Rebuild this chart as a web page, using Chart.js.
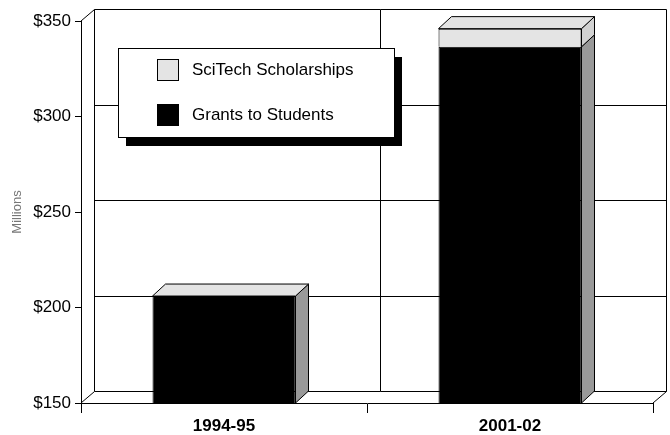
<!DOCTYPE html>
<html>
<head>
<meta charset="utf-8">
<script src="https://cdn.jsdelivr.net/npm/chart.js@4.4.1/dist/chart.umd.min.js"></script>
<style>
html, body { margin: 0; padding: 0; background: #fff; }
#wrap { width: 670px; height: 435px; position: relative; }
</style>
</head>
<body>
<div id="wrap"><canvas id="myChart"></canvas></div>
<script>
// data
const years = ['1994-95', '2001-02'];
const grants = [206, 336.5];
const scitech = [0, 9.5];
const yTicks = [150, 200, 250, 300, 350];
const seriesNames = ['Grants to Students', 'SciTech Scholarships'];

const FONT = 'Liberation Sans, Arial, sans-serif';
const DX = 13, DY = -12; // depth of the 3d look
const faceColors = ['#000000', '#e4e4e4'];
const sideColors = ['#999999', '#d2d2d2'];
const topColor = '#e4e4e4';

// back wall, floor and grid
const wall = {
  id: 'wall',
  beforeDatasetsDraw(chart) {
    const { ctx, chartArea: a, scales: { x, y } } = chart;
    const top = Math.round(y.getPixelForValue(yTicks[yTicks.length - 1]) + DY) + 0.5;
    const bot = Math.round(y.getPixelForValue(yTicks[0]) + DY) + 0.5;
    const l = Math.round(a.left + DX) + 0.5, r = Math.round(a.right + DX) + 0.5;
    ctx.save();
    ctx.strokeStyle = '#000';
    ctx.lineWidth = 1;
    ctx.beginPath();
    yTicks.forEach(v => {
      const py = Math.round(y.getPixelForValue(v) + DY) + 0.5;
      ctx.moveTo(l, py); ctx.lineTo(r, py);
    });
    ctx.moveTo(l, top); ctx.lineTo(l, bot);
    ctx.moveTo(r, top); ctx.lineTo(r, bot);
    for (let i = 1; i < years.length; i++) {
      const mx = Math.round((x.getPixelForValue(i - 1) + x.getPixelForValue(i)) / 2 + DX) + 0.5;
      ctx.moveTo(mx, top); ctx.lineTo(mx, bot);
    }
    ctx.moveTo(a.left, a.top); ctx.lineTo(l, top);
    ctx.moveTo(a.left, a.bottom); ctx.lineTo(l, bot);
    ctx.moveTo(a.right, a.bottom); ctx.lineTo(r, bot);
    ctx.stroke();
    ctx.restore();
  },
  afterDatasetsDraw(chart) {
    const ctx = chart.ctx;
    const floor = chart.chartArea.bottom;
    ctx.save();
    ctx.strokeStyle = '#000';
    ctx.lineWidth = 1;
    const tops = [];
    chart.data.datasets.forEach((ds, di) => {
      chart.getDatasetMeta(di).data.forEach((bar, j) => {
        if (!ds.data[j]) return;
        const p = bar.getProps(['x', 'y', 'base', 'width'], true);
        const base = Math.min(p.base, floor);
        const left = p.x - p.width / 2, right = p.x + p.width / 2;
        ctx.fillStyle = sideColors[di];
        ctx.beginPath();
        ctx.moveTo(right, p.y);
        ctx.lineTo(right + DX, p.y + DY);
        ctx.lineTo(right + DX, base + DY);
        ctx.lineTo(right, base);
        ctx.closePath();
        ctx.fill(); ctx.stroke();
        if (!tops[j] || p.y < tops[j].y) tops[j] = { y: p.y, left, right };
      });
    });
    tops.forEach(t => {
      ctx.fillStyle = topColor;
      ctx.beginPath();
      ctx.moveTo(t.left, t.y);
      ctx.lineTo(t.left + DX, t.y + DY);
      ctx.lineTo(t.right + DX, t.y + DY);
      ctx.lineTo(t.right, t.y);
      ctx.closePath();
      ctx.fill(); ctx.stroke();
    });
    ctx.restore();
  },
  afterDraw(chart) {
    // boxed legend with drop shadow
    const ctx = chart.ctx;
    const bx = 118, by = 48, bw = 276, bh = 89;
    ctx.save();
    ctx.fillStyle = '#000';
    ctx.fillRect(bx + 8, by + 9, bw, bh);
    ctx.fillStyle = '#fff';
    ctx.fillRect(bx, by, bw, bh);
    ctx.strokeStyle = '#000';
    ctx.lineWidth = 1;
    ctx.strokeRect(bx + 0.5, by + 0.5, bw, bh);
    const order = [1, 0];
    order.forEach((di, k) => {
      const sy = by + 11 + k * 45;
      ctx.fillStyle = faceColors[di];
      ctx.fillRect(bx + 39, sy, 21, 21);
      ctx.strokeRect(bx + 39.5, sy + 0.5, 21, 21);
      ctx.fillStyle = '#000';
      ctx.font = '17px ' + FONT;
      ctx.textBaseline = 'middle';
      ctx.fillText(seriesNames[di], bx + 74, sy + 11);
    });
    ctx.restore();
  }
};

const ctx = document.getElementById('myChart');
const myChart = new Chart(ctx, {
  type: 'bar',
  data: {
    labels: years,
    datasets: [
      { label: seriesNames[0], data: grants, backgroundColor: faceColors[0], borderColor: '#000', borderWidth: 1 },
      { label: seriesNames[1], data: scitech, backgroundColor: faceColors[1], borderColor: '#000', borderWidth: 1 }
    ]
  },
  options: {
    responsive: true,
    maintainAspectRatio: false,
    animation: false,
    layout: { padding: { top: 21, right: 17, left: 0, bottom: 0 } },
    datasets: { bar: { categoryPercentage: 1, barPercentage: 0.5 } },
    plugins: { legend: { display: false }, tooltip: { enabled: false } },
    scales: {
      x: {
        stacked: true,
        offset: true,
        grid: { offset: true, drawOnChartArea: false, tickLength: 10, color: '#000' },
        border: { color: '#000' },
        ticks: { color: '#000', padding: 3, font: { family: FONT, size: 17, weight: 'bold' } },
        afterFit: s => { s.height = 32; }
      },
      y: {
        stacked: true,
        min: yTicks[0],
        max: yTicks[yTicks.length - 1],
        afterBuildTicks: s => { s.ticks = yTicks.map(v => ({ value: v })); },
        grid: { drawOnChartArea: false, tickLength: 6, color: '#000' },
        border: { color: '#000' },
        ticks: { color: '#000', padding: 4, font: { family: FONT, size: 17 }, callback: v => '$' + v },
        title: { display: true, text: 'Millions', color: '#777', padding: { top: 10, bottom: 0 }, font: { family: FONT, size: 13 } },
        afterFit: s => { s.width = 81; }
      }
    }
  },
  plugins: [wall]
});
</script>
</body>
</html>
